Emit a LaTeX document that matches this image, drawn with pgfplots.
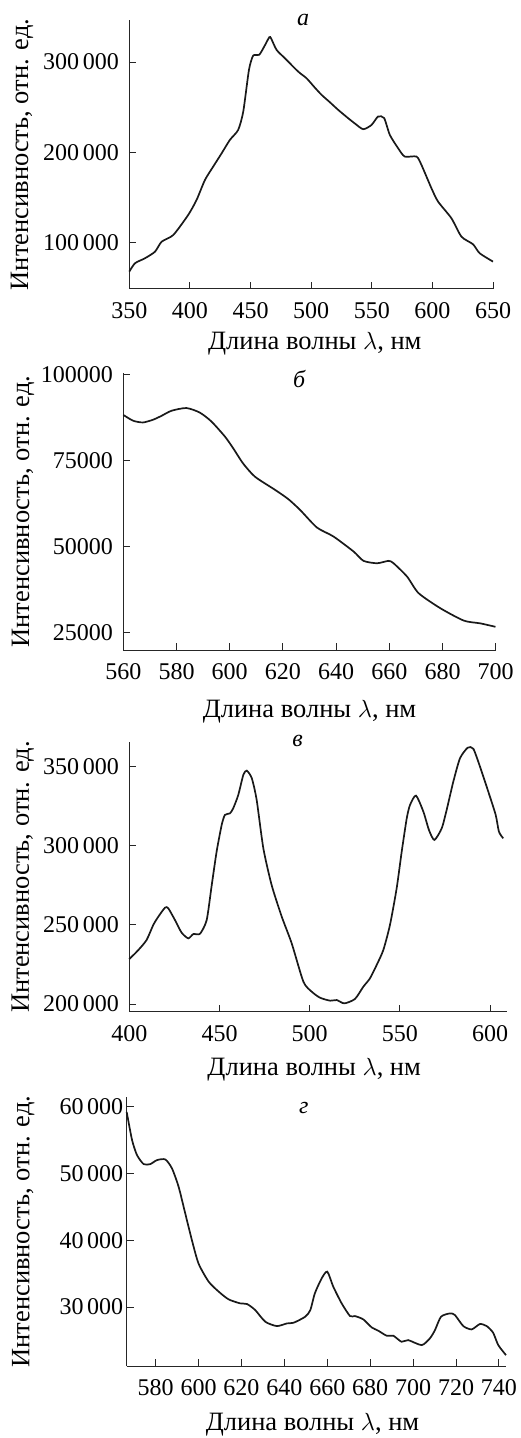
\documentclass[border=0pt]{standalone}
\usepackage{fontspec}
\setmainfont{Liberation Serif}
\usepackage{pgfplots}
\pgfplotsset{compat=1.18}
\newcommand{\fs}{\fontsize{24bp}{28bp}\selectfont}
\newcommand{\fl}{\fontsize{26.5bp}{30bp}\selectfont}
\pgfplotsset{
 myax/.style={
  scale only axis, axis lines=left,
  axis line style={-, line width=0.9bp, black!85},
  tick align=inside, major tick length=7bp,
  tick style={line width=0.9bp, black!85},
  anchor=south west,
  tick label style={font=\fs},
  label style={font=\fl},
  title style={font=\fs\itshape},
  /pgf/number format/fixed,
  /pgf/number format/assume math mode=true,
  /pgf/number format/1000 sep={\kern0.15em},
  scaled y ticks=false, scaled x ticks=false,
  xticklabel style={yshift=-10bp},
  clip=false,
 },
 curve/.style={line width=1.7bp, black!90, smooth, tension=0.4, mark=none},
}
\begin{document}
\begin{tikzpicture}
\useasboundingbox (0,0) rectangle (521bp,-1438bp);
% panel a
\begin{axis}[myax, at={(129.3bp,-288.7bp)}, width=363.7bp, height=268.7bp,
  xmin=350, xmax=650, ymin=49000, ymax=346500,
  xtick={350,400,450,500,550,600,650}, ytick={100000,200000,300000},
  yticklabel style={xshift=-7bp},
  xlabel={Длина волны $\lambda$, нм},
  xlabel style={at={(axis description cs:0.51,0)}, anchor=center, yshift=-55bp},
  ylabel={Интенсивность, отн. ед.},
  ylabel style={at={(axis description cs:-0.295,0.5)}, anchor=center},
  title={а}, title style={at={(axis description cs:0.4776,1)}, anchor=center, yshift=-5.5bp}]
\addplot[curve] coordinates {
(350,67900) (354.7,77200) (362.9,82700) (371.2,90000) (376.7,101100) (386.3,108500)
(398.6,130700) (405.5,147300) (412.4,169400) (419.2,184200) (426.2,199000) (433,213800)
(439.8,224800) (444,245100) (448.7,291300) (452.2,307100) (457.1,307900) (461.3,317100)
(465.5,327500) (467,326000) (471.5,313400) (478.3,304200) (489.3,289400) (496.2,282000)
(503,271700) (508.6,263600) (515,256000) (522.3,247000) (530.5,237800) (536,232000)
(542.9,225600) (549.8,230300) (555.2,239600) (560.2,237900) (564.9,219300) (571.7,204600)
(577.2,195300) (586.9,195300) (591,186000) (599.2,160300) (604.7,145400) (615.7,127000)
(624,106600) (633.5,98200) (639,88300) (650,79000)
};
\end{axis}
% panel b
\begin{axis}[myax, at={(123.3bp,-650bp)}, width=372.4bp, height=277bp,
  xmin=560, xmax=700, ymin=19840, ymax=100500,
  /pgf/number format/1000 sep={},
  xtick={560,580,600,620,640,660,680,700}, ytick={25000,50000,75000,100000},
  yticklabel style={xshift=-7bp},
  xlabel={Длина волны $\lambda$, нм},
  xlabel style={at={(axis description cs:0.5,0)}, anchor=center, yshift=-62bp},
  ylabel={Интенсивность, отн. ед.},
  ylabel style={at={(axis description cs:-0.269,0.5)}, anchor=center},
  title={б}, title style={at={(axis description cs:0.472,1)}, anchor=center, yshift=-12bp}]
\addplot[curve] coordinates {
(560,88300) (563.7,86600) (567.4,86100) (571.2,86900) (574.3,88000) (578.1,89500)
(583.7,90300) (588.7,89000) (593.1,86400) (598.2,82000) (601.3,78600) (605,74200)
(609.5,70300) (617,66500) (622,63800) (626.5,60600) (632.8,55500) (639,52900)
(646.6,48500) (650.3,45800) (655.4,45100) (659.7,45800) (661.6,45100) (666.7,41200)
(671,36400) (679.2,32000) (688,28400) (694.2,27600) (699.9,26600)
};
\end{axis}
% panel c
\begin{axis}[myax, at={(129.3bp,-1011.7bp)}, width=377.4bp, height=269.4bp,
  xmin=400, xmax=609.2, ymin=195130, ymax=365400,
  xtick={400,450,500,550,600}, ytick={200000,250000,300000,350000},
  yticklabel style={xshift=-7bp},
  xlabel={Длина волны $\lambda$, нм},
  xlabel style={at={(axis description cs:0.49,0)}, anchor=center, yshift=-58bp},
  ylabel={Интенсивность, отн. ед.},
  ylabel style={at={(axis description cs:-0.282,0.5)}, anchor=center},
  title={в}, title style={at={(axis description cs:0.446,1)}, anchor=center, yshift=-5bp}]
\addplot[curve] coordinates {
(400,228400) (405,234100) (409.6,240500) (413.3,250000) (416.1,255200) (419.8,260900)
(421.6,260500) (425.3,253100) (429,245100) (432.7,241500) (435.5,244200) (439.2,244400)
(442.9,253100) (445.7,275200) (448.4,296300) (451.2,313100) (453,319500) (455.8,320500)
(457.6,323700) (460.4,332100) (463.2,344800) (465.1,347500) (467.9,342700) (470.6,329000)
(474.3,298400) (478.9,275200) (484.5,255200) (490,238400) (496.5,214100) (501.1,207800)
(505.7,204000) (511.3,202100) (515,202500) (519.2,200400) (525.1,203200) (529.7,210900)
(533.4,216200) (537.1,224600) (540.8,234100) (544.5,250000) (548.2,273100) (551,296300)
(553.8,317400) (555.6,325800) (558.9,331700) (563,321600) (566.1,310000) (569.1,303700)
(573.2,311100) (575.9,322600) (579.6,340500) (583.3,355300) (587.6,362000) (590.7,361300)
(594.4,350000) (599,334200) (603.1,319500) (604.9,308900) (607.3,304700)
};
\end{axis}
% panel d
\begin{axis}[myax, at={(126.7bp,-1366bp)}, width=379.3bp, height=268.7bp,
  xmin=566.5, xmax=743.3, ymin=21170, ymax=61400,
  xtick={580,600,620,640,660,680,700,720,740}, ytick={30000,40000,50000,60000},
  yticklabel style={xshift=0bp},
  xlabel={Длина волны $\lambda$, нм},
  xlabel style={at={(axis description cs:0.49,0)}, anchor=center, yshift=-59bp},
  ylabel={Интенсивность, отн. ед.},
  ylabel style={at={(axis description cs:-0.273,0.5)}, anchor=center},
  title={г}, title style={at={(axis description cs:0.467,1)}, anchor=center, yshift=-17bp}]
\addplot[curve] coordinates {
(566.5,59200) (569,55000) (571.3,52750) (574.4,51400) (577.5,51400) (580.6,52000)
(584.5,52100) (587.6,50760) (590.7,48000) (593.8,44000) (596.9,40000) (600,36500)
(604.7,33800) (609.4,32300) (614,31150) (619.4,30550) (622.6,30450) (626.4,29550)
(631.1,27800) (636.5,27150) (641.2,27550) (644.3,27650) (649.7,28550) (652.1,29550)
(654.2,32050) (657.4,34300) (660,35300) (662.8,33040) (666.7,30550) (670.6,28650)
(672.9,28650) (676.8,28150) (680.7,26950) (683.8,26450) (687.7,25700) (690.8,25700)
(694.6,24800) (697.7,25050) (704,24300) (707.8,25300) (710.2,26550) (713,28550)
(717.2,29050) (719.5,28800) (723.4,27150) (727.3,26650) (731.1,27450) (734.3,27150)
(737.3,26150) (739.7,24300) (743.3,22800)
};
\end{axis}
\end{tikzpicture}
\end{document}
